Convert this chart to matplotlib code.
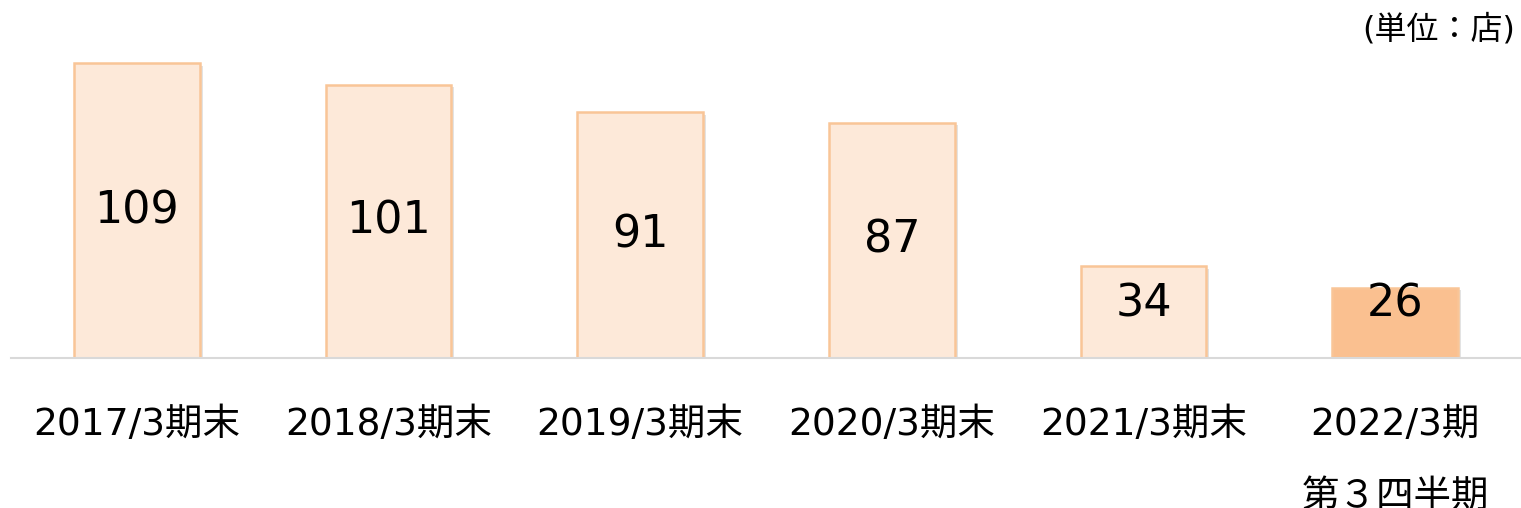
import matplotlib
matplotlib.use("Agg")
import matplotlib.pyplot as plt
import matplotlib.patheffects as pe

plt.rcParams['font.family'] = ['DejaVu Sans', 'Noto Sans CJK JP']

# data
categories = ['2017/3期末', '2018/3期末', '2019/3期末', '2020/3期末', '2021/3期末',
              '2022/3期\n第３四半期']
stores = [109, 101, 91, 87, 34, 26]
unit_label = '(単位：店)'

fill_colors = ['#FDE9D9'] * 5 + ['#FAC090']
edge_color = '#F9C597'

fig = plt.figure(figsize=(15.21, 5.08), dpi=100)
ax = fig.add_axes([11 / 1521, (508 - 358) / 508, 1510 / 1521, 358 / 508])

x = range(len(categories))
bars = ax.bar(x, stores, width=0.5, color=fill_colors, edgecolor=edge_color,
              linewidth=1.8, zorder=2)
for b in bars:
    b.set_path_effects([pe.SimplePatchShadow(offset=(2, -2), shadow_rgbFace='#B0B0B0', alpha=0.35),
                        pe.Normal()])

# value labels (centered, but kept off the baseline for short bars)
for xi, v in zip(x, stores):
    ax.text(xi, max(v / 2, 20), str(v), ha='center', va='center',
            fontsize=32, color='black', zorder=3)

ax.set_xlim(-0.5, len(categories) - 0.5)
ax.set_ylim(0, 132.3)
ax.set_yticks([])
ax.set_xticks(list(x))
ax.set_xticklabels(categories, fontsize=27, linespacing=2.3)
ax.tick_params(axis='x', length=0, pad=35)

for s in ['top', 'right', 'left']:
    ax.spines[s].set_visible(False)
ax.spines['bottom'].set_color('#D9D9D9')
ax.spines['bottom'].set_linewidth(1.5)

fig.text(1515 / 1521, 1 - 30 / 508, unit_label, ha='right', va='center', fontsize=23)

fig.savefig('out.png', dpi=100)
